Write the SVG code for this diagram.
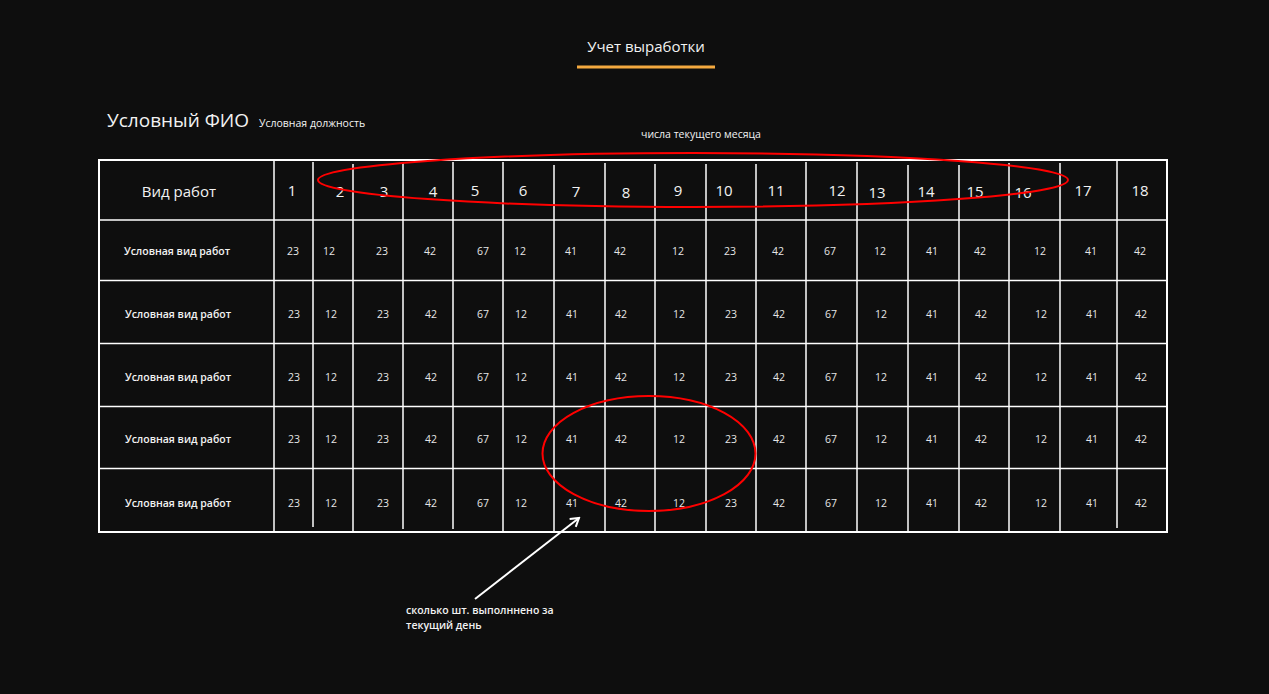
<svg xmlns="http://www.w3.org/2000/svg" width="1269" height="694" viewBox="0 0 1269 694">
<style>
text{font-family:"Open Sans","Noto Sans","DejaVu Sans",sans-serif;fill:#f2f2f2}
.grid line{stroke:#ffffff;stroke-width:1.5}
.hd{font-size:15px;text-anchor:middle;font-weight:500}
.lbl{font-size:10.5px;text-anchor:middle;font-weight:600}
.num{font-size:10.5px;text-anchor:middle;font-weight:500;fill:#e6e6e6}
.note{font-size:10.5px;font-weight:600}
.ring{fill:none;stroke:#ff0000;stroke-width:2}
</style>
<defs>
<marker id="open" viewBox="0 0 12 12" refX="10" refY="6" markerWidth="12" markerHeight="12" markerUnits="userSpaceOnUse" orient="auto">
<path d="M2,1 L10,6 L2,11" fill="none" stroke="#fff" stroke-width="2"/>
</marker>
</defs>
<rect width="1269" height="694" fill="#0e0e0e"/>

<g id="title">
<text x="646" y="52" style="font-size:15px;text-anchor:middle">Учет выработки</text>
<rect x="577" y="65.5" width="138" height="3" fill="#f4a93f"/>
</g>

<g id="person">
<text x="107" y="127" style="font-size:19px">Условный ФИО</text>
<text x="259" y="127" style="font-size:10.5px">Условная должность</text>
</g>

<g id="table">
<g class="grid">
<line x1="274" y1="160" x2="274" y2="532"/>
<line x1="313" y1="162" x2="313" y2="527"/>
<line x1="353" y1="164" x2="353" y2="531"/>
<line x1="403" y1="162" x2="403" y2="529"/>
<line x1="453" y1="162" x2="453" y2="529"/>
<line x1="503" y1="162" x2="503" y2="531"/>
<line x1="554" y1="165" x2="554" y2="531"/>
<line x1="605" y1="163" x2="605" y2="531"/>
<line x1="655" y1="164" x2="655" y2="531"/>
<line x1="706" y1="164" x2="706" y2="531"/>
<line x1="756" y1="164" x2="756" y2="531"/>
<line x1="806" y1="162" x2="806" y2="531"/>
<line x1="857" y1="162" x2="857" y2="531"/>
<line x1="908" y1="165" x2="908" y2="531"/>
<line x1="959" y1="165" x2="959" y2="531"/>
<line x1="1009" y1="163" x2="1009" y2="531"/>
<line x1="1060" y1="163" x2="1060" y2="531"/>
<line x1="1117" y1="160" x2="1117" y2="528"/>
<line x1="99" y1="220" x2="1167" y2="220"/>
<line x1="99" y1="280.5" x2="1167" y2="280.5"/>
<line x1="99" y1="343.5" x2="1167" y2="343.5"/>
<line x1="99" y1="406.5" x2="1167" y2="406.5"/>
<line x1="99" y1="468.5" x2="1167" y2="468.5"/>
</g>
<rect x="99" y="160" width="1068" height="372" fill="none" stroke="#ffffff" stroke-width="2"/>
</g>

<g id="header-row">
<text class="hd" x="179" y="197">Вид работ</text>
<text class="hd" x="292" y="196">1</text>
<text class="hd" x="340" y="197">2</text>
<text class="hd" x="384" y="197">3</text>
<text class="hd" x="433" y="197">4</text>
<text class="hd" x="475" y="196">5</text>
<text class="hd" x="523" y="196">6</text>
<text class="hd" x="576" y="197">7</text>
<text class="hd" x="626" y="198">8</text>
<text class="hd" x="678" y="196">9</text>
<text class="hd" x="724" y="196">10</text>
<text class="hd" x="776" y="196">11</text>
<text class="hd" x="837" y="196">12</text>
<text class="hd" x="877" y="198">13</text>
<text class="hd" x="926" y="197">14</text>
<text class="hd" x="975" y="197">15</text>
<text class="hd" x="1023" y="198">16</text>
<text class="hd" x="1083" y="196">17</text>
<text class="hd" x="1140" y="196">18</text>
</g>

<g id="row1">
<text class="lbl" x="177" y="255">Условная вид работ</text>
<text class="num" x="293" y="255">23</text><text class="num" x="329" y="255">12</text><text class="num" x="382" y="255">23</text><text class="num" x="430" y="255">42</text><text class="num" x="483" y="255">67</text><text class="num" x="520" y="255">12</text><text class="num" x="571" y="255">41</text><text class="num" x="620" y="255">42</text><text class="num" x="678" y="255">12</text><text class="num" x="730" y="255">23</text><text class="num" x="778" y="255">42</text><text class="num" x="830" y="255">67</text><text class="num" x="880" y="255">12</text><text class="num" x="932" y="255">41</text><text class="num" x="980" y="255">42</text><text class="num" x="1040" y="255">12</text><text class="num" x="1091" y="255">41</text><text class="num" x="1140" y="255">42</text>
</g>
<g id="row2">
<text class="lbl" x="178" y="318">Условная вид работ</text>
<text class="num" x="294" y="318">23</text><text class="num" x="331" y="318">12</text><text class="num" x="383" y="318">23</text><text class="num" x="431" y="318">42</text><text class="num" x="483" y="318">67</text><text class="num" x="521" y="318">12</text><text class="num" x="572" y="318">41</text><text class="num" x="621" y="318">42</text><text class="num" x="679" y="318">12</text><text class="num" x="731" y="318">23</text><text class="num" x="779" y="318">42</text><text class="num" x="831" y="318">67</text><text class="num" x="881" y="318">12</text><text class="num" x="932" y="318">41</text><text class="num" x="981" y="318">42</text><text class="num" x="1041" y="318">12</text><text class="num" x="1092" y="318">41</text><text class="num" x="1141" y="318">42</text>
</g>
<g id="row3">
<text class="lbl" x="178" y="381">Условная вид работ</text>
<text class="num" x="294" y="381">23</text><text class="num" x="331" y="381">12</text><text class="num" x="383" y="381">23</text><text class="num" x="431" y="381">42</text><text class="num" x="483" y="381">67</text><text class="num" x="521" y="381">12</text><text class="num" x="572" y="381">41</text><text class="num" x="621" y="381">42</text><text class="num" x="679" y="381">12</text><text class="num" x="731" y="381">23</text><text class="num" x="779" y="381">42</text><text class="num" x="831" y="381">67</text><text class="num" x="881" y="381">12</text><text class="num" x="932" y="381">41</text><text class="num" x="981" y="381">42</text><text class="num" x="1041" y="381">12</text><text class="num" x="1092" y="381">41</text><text class="num" x="1141" y="381">42</text>
</g>
<g id="row4">
<text class="lbl" x="178" y="443">Условная вид работ</text>
<text class="num" x="294" y="443">23</text><text class="num" x="331" y="443">12</text><text class="num" x="383" y="443">23</text><text class="num" x="431" y="443">42</text><text class="num" x="483" y="443">67</text><text class="num" x="521" y="443">12</text><text class="num" x="572" y="443">41</text><text class="num" x="621" y="443">42</text><text class="num" x="679" y="443">12</text><text class="num" x="731" y="443">23</text><text class="num" x="779" y="443">42</text><text class="num" x="831" y="443">67</text><text class="num" x="881" y="443">12</text><text class="num" x="932" y="443">41</text><text class="num" x="981" y="443">42</text><text class="num" x="1041" y="443">12</text><text class="num" x="1092" y="443">41</text><text class="num" x="1141" y="443">42</text>
</g>
<g id="row5">
<text class="lbl" x="178" y="507">Условная вид работ</text>
<text class="num" x="294" y="507">23</text><text class="num" x="331" y="507">12</text><text class="num" x="383" y="507">23</text><text class="num" x="431" y="507">42</text><text class="num" x="483" y="507">67</text><text class="num" x="521" y="507">12</text><text class="num" x="572" y="507">41</text><text class="num" x="621" y="507">42</text><text class="num" x="679" y="507">12</text><text class="num" x="731" y="507">23</text><text class="num" x="779" y="507">42</text><text class="num" x="831" y="507">67</text><text class="num" x="881" y="507">12</text><text class="num" x="932" y="507">41</text><text class="num" x="981" y="507">42</text><text class="num" x="1041" y="507">12</text><text class="num" x="1092" y="507">41</text><text class="num" x="1141" y="507">42</text>
</g>

<g id="annotation-days">
<text x="701" y="138" style="font-size:10.5px;text-anchor:middle">числа текущего месяца</text>
<ellipse class="ring" cx="693" cy="180" rx="375" ry="27"/>
</g>

<g id="annotation-daily">
<ellipse class="ring" cx="649" cy="453.5" rx="106.5" ry="57.5"/>
<text class="note" x="406" y="614">сколько шт. выполннено за</text>
<text class="note" x="406" y="629">текущий день</text>
</g>

<g id="connectors">
<line x1="475" y1="599" x2="579" y2="518" stroke="#fff" stroke-width="2" marker-end="url(#open)"/>
</g>
</svg>
